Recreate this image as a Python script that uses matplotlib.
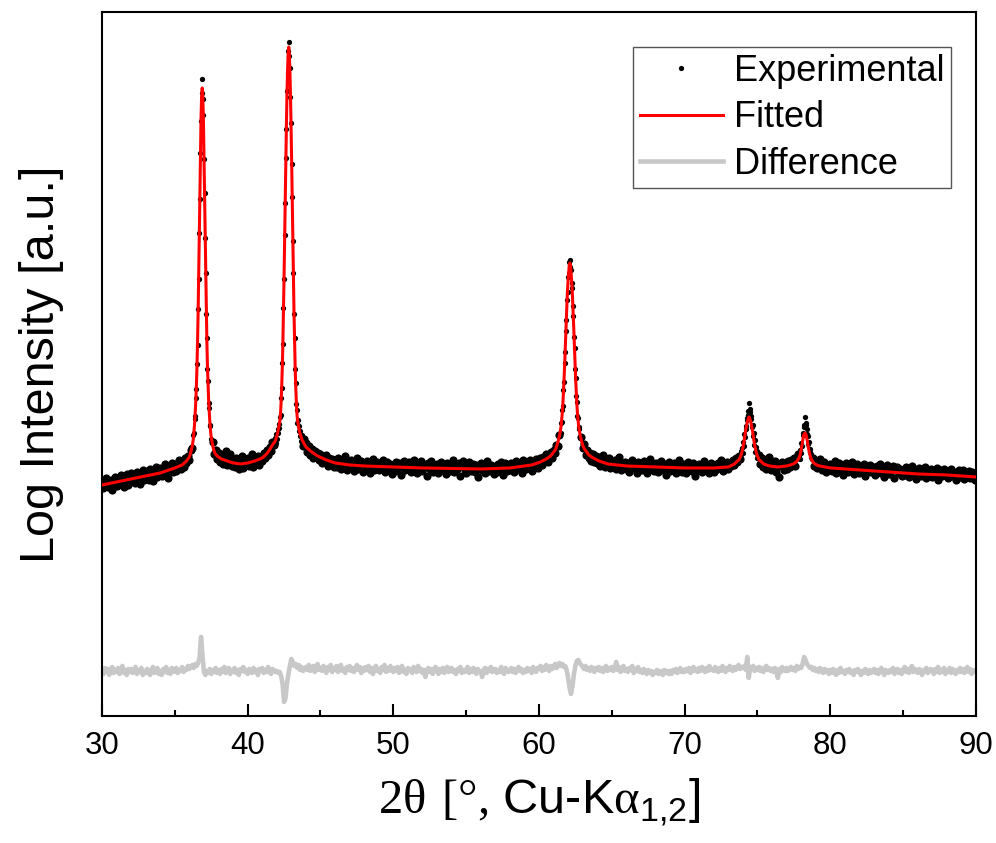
import numpy as np
import matplotlib
matplotlib.use("Agg")
import matplotlib.pyplot as plt
from matplotlib.ticker import MultipleLocator

# log intensity values are stored x100 (arbitrary units), 2theta in degrees

# fitted profile (red line), knots
fit_x = [30.0, 31.0, 32.0, 33.0, 34.0, 35.0, 35.5, 35.8, 36.0, 36.1, 36.2, 36.24,
         36.28, 36.32, 36.36, 36.40, 36.44, 36.48, 36.52, 36.56, 36.60, 36.64, 36.68,
         36.72, 36.76, 36.80, 36.84, 36.88, 36.92, 36.96, 37.00, 37.04, 37.08, 37.12,
         37.16, 37.20, 37.24, 37.28, 37.32, 37.36, 37.40, 37.44, 37.48, 37.54, 37.64,
         37.74, 37.90, 38.20, 38.60, 39.00, 39.50, 40.00, 40.50, 41.00, 41.30, 41.50,
         41.70, 41.90, 41.98, 42.06, 42.14, 42.22, 42.26, 42.30, 42.34, 42.38, 42.42,
         42.46, 42.50, 42.54, 42.58, 42.62, 42.66, 42.70, 42.74, 42.78, 42.82, 42.86,
         42.90, 42.94, 42.98, 43.02, 43.06, 43.10, 43.14, 43.18, 43.22, 43.26, 43.30,
         43.34, 43.38, 43.42, 43.50, 43.58, 43.74, 44.00, 44.40, 44.80, 45.40, 46.00,
         47.00, 48.00, 50.00, 52.00, 56.00, 58.00, 59.50, 60.10, 60.50, 60.80, 61.12,
         61.22, 61.32, 61.42, 61.52, 61.56, 61.60, 61.64, 61.68, 61.72, 61.76, 61.80,
         61.84, 61.88, 61.92, 61.96, 62.00, 62.04, 62.08, 62.12, 62.16, 62.20, 62.24,
         62.28, 62.32, 62.36, 62.40, 62.44, 62.48, 62.52, 62.56, 62.60, 62.64, 62.68,
         62.72, 62.82, 62.92, 63.02, 63.12, 63.42, 63.72, 64.12, 64.72, 66.00, 68.00,
         70.00, 72.00, 73.00, 73.42, 73.62, 73.72, 73.82, 73.90, 73.98, 74.02, 74.06,
         74.10, 74.14, 74.18, 74.22, 74.26, 74.30, 74.34, 74.38, 74.42, 74.46, 74.50,
         74.54, 74.58, 74.62, 74.66, 74.70, 74.74, 74.78, 74.82, 74.86, 74.94, 75.02,
         75.12, 75.22, 75.42, 75.82, 76.40, 77.00, 77.26, 77.46, 77.66, 77.76, 77.86,
         77.90, 77.94, 77.98, 78.02, 78.06, 78.10, 78.14, 78.18, 78.22, 78.26, 78.30,
         78.34, 78.38, 78.42, 78.46, 78.50, 78.54, 78.58, 78.62, 78.66, 78.76, 78.86,
         79.06, 79.26, 80.00, 82.00, 84.00, 86.00, 88.00, 90.00]
fit_y = [231, 234, 237, 240, 243, 248, 251, 255, 259, 264, 270, 274,
         278, 285, 293, 303, 315, 330, 349, 374, 404, 440, 480,
         520, 560, 598, 620, 628, 620, 598, 560, 520, 480, 440,
         405, 375, 350, 332, 316, 305, 295, 287, 281, 275, 268,
         263, 260, 257, 255, 253, 252, 253, 255, 258, 262, 266,
         271, 275, 279, 283, 289, 296, 303, 315, 330, 350, 375,
         405, 440, 478, 516, 555, 590, 622, 645, 662, 669, 662,
         645, 622, 590, 555, 516, 478, 440, 405, 375, 350, 330,
         315, 303, 296, 289, 283, 276, 269, 264, 260, 256, 253,
         251, 250, 249, 248, 247, 248, 251, 254, 257, 260, 266,
         270, 275, 281, 290, 296, 303, 312, 323, 336, 350, 366,
         382, 398, 413, 426, 436, 444, 451, 453, 451, 444, 436,
         426, 413, 398, 382, 366, 350, 336, 323, 312, 303, 296,
         290, 281, 275, 270, 267, 261, 258, 255, 252, 250, 249,
         248, 248, 249, 252, 255, 256, 259, 262, 267, 270, 273,
         277, 281, 285, 288, 291, 294, 296, 298, 299, 298, 296,
         294, 291, 288, 285, 281, 277, 273, 270, 267, 262, 259,
         256, 255, 252, 250, 249, 250, 251, 252, 254, 256, 258,
         260, 262, 265, 268, 271, 275, 278, 281, 282, 283, 282,
         281, 278, 275, 271, 268, 265, 262, 260, 258, 255, 253,
         251, 250, 248, 246, 244, 242, 241, 239]

# experimental scan, kept in pieces: coarse steps on the background,
# finer steps across the reflections
exp_a = [235, 228, 233, 238, 229, 231, 236, 226, 232, 239,
         230, 238, 233, 241, 236, 229, 237, 242, 231, 236,
         243, 235, 240, 233, 244, 238, 232, 241, 246, 236,
         238, 245, 236, 247, 241, 235, 244, 249, 239, 243,
         248, 240, 246, 252, 243, 238, 249, 245, 253, 244,
         252, 245, 251, 256, 247, 254, 249, 258, 253, 260,
         256, 266, 268]
exp_p1 = [281, 283, 297, 300, 318, 327, 352, 371, 407, 437, 483, 517, 563, 595, 623, 637,
          617, 601, 557, 523, 478, 443, 402, 378, 347, 335, 313, 308, 291, 290, 277]
exp_b = [274, 262, 266, 257,
         263, 254, 261, 252, 259, 265, 251, 258, 262, 250,
         256, 249, 258, 253, 247, 257, 260, 248, 255, 251,
         258, 250, 256, 262, 249, 257, 253, 260, 251, 259,
         255, 263, 258, 266, 261, 269, 265, 274, 271]
exp_p2 = [278, 273, 282, 277, 287, 283, 292, 288, 299, 301,
          318, 328, 353, 372, 408, 437, 481, 513, 558, 587,
          625, 643, 665, 674, 660, 648, 619, 593, 552, 519,
          475, 443, 402, 378, 347, 333, 312, 306, 293, 296,
          285, 290, 280, 285, 275, 281, 272]
exp_c = [270, 277,
         273, 264, 270, 261, 267, 258, 265, 259, 263, 256,
         262, 253, 259, 255, 261, 250, 258, 252, 257, 249,
         256, 249, 258, 251, 247, 255, 252, 260, 246, 254,
         248, 256, 251, 245, 253, 258, 247, 252, 255, 244,
         253, 247, 255, 249, 243, 252, 257, 246, 251, 254,
         246, 253, 248, 256, 244, 250, 254, 247, 252, 242,
         251, 245, 254, 248, 253, 241, 250, 255, 246, 252,
         247, 254, 244, 250, 256, 249, 243, 252, 248, 255,
         245, 251, 249, 240, 253, 247, 255, 244, 250, 246,
         252, 243, 249, 254, 246, 250, 242, 253, 248, 245,
         251, 256, 244, 249, 247, 253, 240, 250, 255, 246,
         243, 250, 254, 245, 249, 252, 244, 251, 239, 248,
         253, 246, 250, 243, 255, 248, 245, 251, 247, 242,
         250, 244, 252, 247, 254, 241, 249, 253, 245, 251,
         246, 253, 249, 244, 255, 250, 247, 252, 243, 256,
         251, 247, 254, 249, 256, 245, 253, 250, 257, 248,
         255, 258, 251, 259, 256, 262, 254, 260, 264, 258,
         266, 263, 271, 270, 281]
exp_p3 = [283, 293, 294, 306, 310, 326, 334, 353, 364, 385,
          396, 416, 424, 439, 443, 454, 456, 449, 446, 433,
          428, 410, 400, 379, 368, 347, 338, 320, 314, 300,
          298, 287, 289]
exp_d = [279,
         268, 272, 261, 266, 258, 263, 255, 262, 254, 260,
         253, 259, 250, 257, 261, 249, 255, 252, 258, 248,
         255, 250, 256, 247, 253, 259, 246, 252, 249, 254,
         247, 253, 244, 251, 256, 248, 250, 243, 254, 249,
         252, 246, 255, 249, 243, 251, 257, 247, 250, 245,
         253, 248, 244, 250, 255, 246, 252, 241, 249, 254,
         245, 251, 247, 253, 243, 250, 256, 248, 244, 252,
         249, 243, 254, 247, 251, 245, 253, 240, 250, 246,
         252, 248, 244, 255, 249, 246, 251, 243, 253, 247,
         244, 251, 247, 253, 249, 256, 245, 250, 248, 254,
         247, 253, 250, 256, 251, 258, 254, 260, 257]
exp_p4 = [265, 258, 268, 263, 274, 270, 282, 279, 290, 287,
          298, 296, 305, 301, 313, 304, 307, 297, 300, 289,
          291, 280, 283, 271, 276, 264, 269, 258, 265]
exp_e = [261, 252, 258, 249, 256, 247, 254, 259, 246,
         253, 248, 255, 244, 251, 239, 250, 254, 246, 252,
         247, 255, 249, 256, 251, 258, 250, 259, 262]
exp_p5 = [262, 257, 266, 263, 273, 270, 283, 281, 291, 289,
          299, 293, 291, 287, 282, 280, 272, 274, 264, 267,
          259, 262]
exp_f = [258, 250,
         255, 248, 253, 257, 246, 251, 254, 244, 250, 247,
         252, 245, 250, 255, 243, 249, 253, 246, 251, 241,
         248, 253, 244, 250, 246, 254, 242, 249, 252, 245,
         243, 250, 247, 252, 240, 248, 245, 251, 244, 249,
         247, 241, 250, 245, 252, 243, 248, 239, 246, 251,
         242, 248, 245, 250, 238, 246, 249, 243, 247, 240,
         246, 241, 249, 244, 239, 247, 250, 242, 245, 237,
         244, 248, 240, 246, 243, 249, 238, 245, 241, 247,
         239, 245, 242, 248, 236, 244, 246, 240, 247, 243,
         245, 238, 243, 247, 240, 244, 236, 242, 246, 239,
         242, 246, 237, 243, 240, 245, 238, 244, 241, 236,
         242]

# (first 2theta, step, values)
exp_segments = [(30.0, 0.1, exp_a), (36.28, 0.04, exp_p1), (37.6, 0.1, exp_b),
                (41.90, 0.04, exp_p2), (43.8, 0.1, exp_c), (61.48, 0.04, exp_p3),
                (62.9, 0.1, exp_d), (73.86, 0.04, exp_p4), (75.1, 0.1, exp_e),
                (77.86, 0.04, exp_p5), (78.8, 0.1, exp_f)]

# difference curve (shifted down), 30..90 in 0.1 deg steps
diff_start, diff_step = 30.0, 0.1
diff_y = [46, 42, 48, 44, 47, 41, 45, 49, 43, 46,
          44, 48, 42, 45, 50, 43, 46, 41, 47, 44,
          47, 43, 45, 49, 42, 46, 44, 48, 41, 45,
          43, 47, 44, 41, 46, 49, 43, 45, 48, 42,
          45, 41, 47, 44, 49, 43, 46, 42, 48, 45,
          44, 48, 43, 46, 45, 49, 44, 47, 46, 50,
          47, 49, 51, 48, 52, 50, 53, 58, 79, 60,
          44, 41, 45, 43, 47, 42, 46, 44, 48, 43,
          46, 42, 47, 44, 49, 43, 45, 48, 42, 46,
          44, 48, 43, 46, 41, 47, 45, 49, 44, 46,
          42, 47, 45, 43, 48, 44, 46, 41, 47, 45,
          48, 43, 46, 44, 49, 45, 42, 47, 46, 44,
          45, 43, 44, 40, 32, 14, 18, 33, 42, 50,
          57, 54, 50, 52, 48, 51, 46, 49, 45, 47,
          49, 46, 51, 45, 48, 50, 44, 47, 52, 46,
          48, 45, 50, 47, 43, 49, 46, 51, 44, 48,
          46, 50, 44, 48, 51, 45, 47, 43, 49, 46,
          50, 45, 48, 44, 47, 51, 46, 49, 43, 48,
          45, 49, 46, 50, 44, 48, 42, 47, 50, 45,
          47, 43, 49, 46, 51, 44, 48, 45, 50, 46,
          44, 48, 45, 49, 43, 47, 50, 44, 46, 42,
          48, 45, 47, 43, 49, 46, 44, 50, 45, 47,
          43, 46, 39, 45, 48, 44, 47, 42, 46, 49,
          45, 42, 47, 44, 48, 43, 46, 49, 44, 46,
          48, 44, 46, 42, 47, 45, 49, 43, 46, 44,
          46, 49, 43, 47, 44, 48, 45, 42, 47, 45,
          44, 39, 46, 48, 43, 47, 45, 49, 44, 46,
          47, 43, 46, 44, 49, 45, 42, 48, 46, 44,
          45, 48, 44, 47, 43, 46, 49, 45, 47, 43,
          46, 44, 48, 45, 47, 43, 49, 46, 44, 48,
          47, 50, 45, 49, 46, 51, 48, 45, 50, 47,
          49, 52, 48, 51, 53, 50, 52, 49, 50, 46,
          38, 28, 22, 30, 42, 50, 55, 56, 53, 51,
          49, 47, 50, 46, 48, 45, 49, 47, 44, 48,
          46, 49, 45, 48, 44, 47, 50, 45, 48, 46,
          49, 45, 48, 54, 46, 49, 44, 47, 50, 45,
          47, 44, 48, 46, 50, 43, 47, 45, 49, 44,
          46, 43, 47, 44, 42, 46, 43, 45, 41, 44,
          43, 46, 42, 45, 44, 41, 46, 43, 45, 42,
          45, 42, 46, 44, 47, 43, 45, 48, 44, 46,
          44, 47, 45, 48, 43, 46, 49, 45, 47, 44,
          48, 45, 49, 46, 44, 48, 45, 50, 46, 47,
          45, 49, 46, 44, 48, 45, 50, 47, 44, 48,
          46, 50, 47, 45, 49, 46, 48, 51, 47, 49,
          48, 50, 46, 59, 38, 49, 47, 50, 45, 48,
          46, 49, 45, 48, 44, 47, 50, 46, 48, 45,
          47, 44, 48, 45, 38, 47, 44, 49, 46, 45,
          48, 45, 47, 49, 46, 48, 45, 50, 47, 49,
          48, 52, 59, 56, 52, 50, 48, 49, 46, 48,
          45, 47, 44, 48, 45, 43, 47, 44, 46, 42,
          46, 43, 47, 44, 41, 46, 43, 48, 44, 45,
          42, 46, 44, 47, 43, 45, 41, 46, 44, 47,
          44, 41, 45, 43, 47, 44, 42, 46, 43, 45,
          47, 43, 46, 42, 45, 48, 44, 41, 46, 44,
          43, 46, 44, 48, 42, 45, 47, 43, 46, 42,
          46, 49, 44, 47, 43, 46, 50, 44, 47, 45,
          43, 47, 45, 41, 46, 44, 48, 43, 45, 47,
          45, 42, 47, 44, 49, 43, 46, 44, 48, 42,
          46, 44, 48, 43, 47, 45, 42, 46, 44, 48,
          44, 47, 43, 46, 49, 44, 47, 42, 46, 45,
          44]

diff_x = diff_start + diff_step * np.arange(len(diff_y))

plt.rcParams["font.family"] = ["Liberation Sans", "DejaVu Sans"]
plt.rcParams["mathtext.fontset"] = "custom"
plt.rcParams["mathtext.rm"] = "Liberation Serif"
plt.rcParams["mathtext.sf"] = "Liberation Sans"

fig = plt.figure(figsize=(9.96, 8.43), dpi=100)
ax = fig.add_axes([0.1024, 0.1507, 0.8775, 0.8351])

diff_line, = ax.plot(diff_x, np.array(diff_y) / 100.0, color="#c8c8c8", lw=3.3,
                     label="Difference", zorder=1)

# background pieces are sampled coarser, so their dots are drawn a bit bigger
exp_handle = None
for start, step, vals in exp_segments:
    xs = start + step * np.arange(len(vals))
    ms = 5.9 if step > 0.05 else 3.8
    ln, = ax.plot(xs, np.array(vals) / 100.0, ls="none", marker="o", ms=ms, mew=0,
                  color="black", zorder=2)
    if step < 0.05 and exp_handle is None:
        exp_handle = ln

fit_line, = ax.plot(fit_x, np.array(fit_y) / 100.0, color="#ff0000", lw=2.2,
                    label="Fitted", zorder=3)

ax.set_xlim(30, 90)
ax.set_ylim(0, 7.04)
ax.set_xticks(range(30, 91, 10))
ax.xaxis.set_minor_locator(MultipleLocator(5))
ax.set_yticks([])
ax.tick_params(axis="x", which="major", direction="in", length=8.6, width=1.5,
               labelsize=22.5, pad=11, top=False)
ax.tick_params(axis="x", which="minor", direction="in", length=4.3, width=1.5, top=False)
for sp in ax.spines.values():
    sp.set_linewidth(1.5)

ax.set_xlabel(r"$\mathrm{2\theta\ [°{,}}$ Cu-K$\mathrm{\alpha}_{\mathsf{1{,}2}}$]",
              fontsize=35, labelpad=11)
ax.set_ylabel("Log Intensity [a.u.]", fontsize=35, labelpad=27)

leg = ax.legend([exp_handle, fit_line, diff_line], ["Experimental", "Fitted", "Difference"],
                loc="upper right", bbox_to_anchor=(0.971, 0.950), borderaxespad=0,
                fontsize=26, frameon=True, fancybox=False, edgecolor="#555555",
                framealpha=1, borderpad=0.18, labelspacing=0.32, handlelength=2.3,
                handletextpad=0.3)
leg.get_frame().set_linewidth(1.0)

fig.savefig("out.png", dpi=100)
